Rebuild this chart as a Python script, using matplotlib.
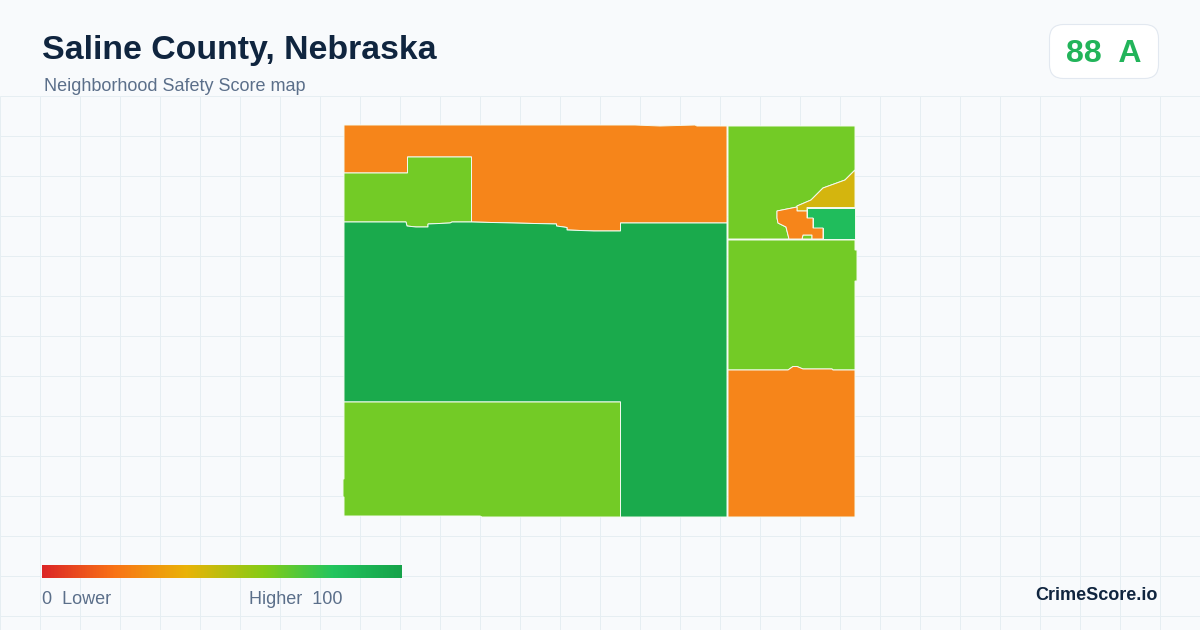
import matplotlib
matplotlib.use("Agg")
import matplotlib.pyplot as plt
import numpy as np
from matplotlib.colors import LinearSegmentedColormap
from matplotlib.patches import FancyBboxPatch, Polygon

plt.rcParams['font.family'] = ['Liberation Sans', 'DejaVu Sans']

TITLE = "Saline County, Nebraska"
SUBTITLE = "Neighborhood Safety Score map"
SCORE_TEXT = "88  A"
LEGEND_LOW = "0  Lower"
LEGEND_HIGH = "Higher  100"
BRAND = "CrimeScore.io"

ORANGE = "#f6851a"
LIME = "#73cb26"
DARK_GREEN = "#1aaa4c"
MID_GREEN = "#20bd5c"
YELLOW = "#d4b50e"

ramp_positions = [0.0, 0.2, 0.4, 0.62, 0.81, 1.0]
ramp_colors = ["#dc2626", "#f97316", "#eab308", "#84cc16", "#22c55e", "#16a34a"]

north_west = [(344,125),(635,125),(660,126),(695,125),(697,126),(727,126),(727,223),(620.5,223),(620.5,231),
              (594,231),(567,230),(567,227.5),(556.5,226),(556.5,224),(513,223),(471.5,222),(471.5,157),
              (407.5,157),(407.5,173),(344,173)]
west_block = [(344,173),(407.5,173),(407.5,157),(471.5,157),(471.5,222),(452,222),(450,223),(428,224),(428,227),
              (416,227),(407,226),(406,222),(344,222)]
central = [(344,222),(406,222),(407,226),(416,227),(428,227),(428,224),(450,223),(452,222),(471.5,222),(513,223),
           (556.5,224),(556.5,226),(567,227.5),(567,230),(594,231),(620.5,231),(620.5,223),(727,223),(727,517),
           (620.5,517),(620.5,402),(344,402)]
south_west = [(344,402),(620.5,402),(620.5,517),(482,517),(480,516),(344,516),(344,497),(343,497),(343,479),(344,479)]
north_east = [(728,126),(855,126),(855,170),(845,180),(823,188),(811,200),(797,206),(797,207),(777,211),(777,218),
              (778,223),(786,227),(789,239),(802,239),(803,235),(812,235),(812,239),(728,239)]
yellow_tract = [(797,206),(811,200),(823,188),(845,180),(855,170),(855,207.5),(807,207.5),(807,211),(797,211)]
green_tract = [(807,207.5),(855,207.5),(855,239),(823,239),(823,228),(813,228),(813,218),(807,218)]
orange_tract = [(777,211),(797,207),(797,211),(807,211),(807,218),(813,218),(813,228),(823,228),(823,239),(812,239),
                (812,235),(803,235),(802,239),(789,239),(786,227),(778,223),(777,218)]
east_middle = [(728,240),(855,240),(855,250),(857,250),(857,281),(855,281),(855,370),(833,370),(832,369),(803,369),
               (797,366.5),(793,366.5),(788,370),(728,370)]
south_east = [(728,370),(788,370),(793,366.5),(797,366.5),(803,369),(832,369),(833,370),(855,370),(855,517),(728,517)]

regions = [
    (north_west, ORANGE), (west_block, LIME), (central, DARK_GREEN), (south_west, LIME),
    (north_east, LIME), (yellow_tract, YELLOW), (green_tract, MID_GREEN), (orange_tract, ORANGE),
    (east_middle, LIME), (south_east, ORANGE),
]

fig = plt.figure(figsize=(12, 6.3), dpi=100, facecolor="#f8fafc")
ax = fig.add_axes([0, 0, 1, 1])
ax.set_xlim(0, 1200)
ax.set_ylim(630, 0)
ax.axis("off")

for x in np.arange(0, 1200, 40):
    ax.plot([x, x], [96, 630], color="#e6eef2", lw=0.72, zorder=1, solid_capstyle="butt")
for y in np.arange(96, 630, 40):
    ax.plot([0, 1200], [y, y], color="#e6eef2", lw=0.72, zorder=1, solid_capstyle="butt")

for pts, col in regions:
    ax.add_patch(Polygon(pts, closed=True, facecolor=col, edgecolor="#f4fbf0", lw=0.7, joinstyle="miter", zorder=2))

ax.text(42, 50.5, TITLE, fontsize=24.4, fontweight="bold", color="#10253f", va="center", ha="left", zorder=5)
ax.text(44, 86.5, SUBTITLE, fontsize=12.95, color="#5b6f8a", va="center", ha="left", zorder=5)

ax.add_patch(FancyBboxPatch((1049.5, 24.5), 109, 54, boxstyle="round,pad=0,rounding_size=14",
                            facecolor="white", edgecolor="#e2e8f0", lw=0.8, zorder=4))
ax.text(1104, 54, SCORE_TEXT, fontsize=23, fontweight="bold", color="#22b45a", va="center", ha="center", zorder=5)

cmap = LinearSegmentedColormap.from_list("score", list(zip(ramp_positions, ramp_colors)))
gradient = np.linspace(0, 1, 360).reshape(1, -1)
ax.imshow(gradient, extent=(42, 402, 578, 565), cmap=cmap, aspect="auto", zorder=3, interpolation="bilinear")
ax.set_xlim(0, 1200)
ax.set_ylim(630, 0)

ax.text(42, 599, LEGEND_LOW, fontsize=12.95, color="#5b6f8a", va="center", ha="left", zorder=5)
ax.text(249, 599, LEGEND_HIGH, fontsize=12.95, color="#5b6f8a", va="center", ha="left", zorder=5)
ax.text(1158, 595, BRAND, fontsize=13.0, fontweight="bold", color="#10253f", va="center", ha="right", zorder=5)

fig.savefig("out.png", dpi=100, facecolor=fig.get_facecolor())
